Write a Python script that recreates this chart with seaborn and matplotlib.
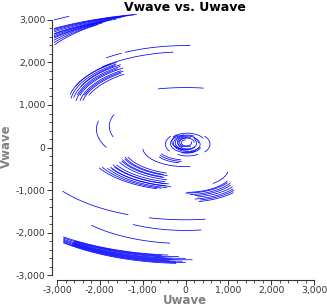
import numpy as np
import pandas as pd
import matplotlib
matplotlib.use("Agg")
import matplotlib.pyplot as plt
import matplotlib.ticker as mticker
import seaborn as sns

# ---- data: uv tracks as elliptical arcs ----
# each arc: u = cu + a*cos(t), v = cv + k*a*sin(t), t from t0 to t1 (degrees)
K = 0.45

# top-left cluster
a_A  = [3600, 3800, 4000, 4300, 4450, 4600, 4900, 5000, 5200, 5500, 5800, 6000, 6000]
cv_A = [1560, 1460, 1370, 1220, 1150, 1090, 960, 890, 830, 700, 566, 482, 680]
t0_A = [124.7, 121, 122, 115.5, 116, 112, 108, 109, 106, 104, 102, 101, 117]
t1_A = [148, 144, 141, 136, 134, 132, 129, 128, 126, 124, 122, 121, 121]

# upper hook cluster
a_B  = [2750, 2700, 2650, 2600, 2580, 2550, 2500, 2480, 2450, 2400, 2720, 2620]
cv_B = [1000, 990, 970, 960, 940, 930, 910, 890, 880, 860, 1030, 1010]
t0_B = [126, 127, 125, 126, 128, 125, 127, 126, 128, 127, 130, 129]
t1_B = [168, 172, 170, 166, 172, 165, 170, 162, 168, 160, 160, 158]

# long upper arcs and short flat arc
a_L  = [3000, 3000, 2800, 3000]
cv_L = [1047, 1047, 990, 60]
t0_L = [88, 120, 96, 82]
t1_L = [118, 128, 134, 102.3]

# left isolated arcs
a_F  = [2080, 1780]
cv_F = [430, 500]
t0_F = [168, 160]
t1_F = [207, 198]

# lower-left middle cluster
a_C  = [1450, 1500, 1550, 1600, 1650, 1700, 1850, 1900, 1950, 2000, 2050, 2100, 2200, 2300,
        1000, 650, 700, 750]
cv_C = [20, 0, 10, -10, 0, -20, 0, -20, 0, -30, 0, -20, 0, 20,
        0, 0, -15, -30]
t0_C = [202, 200, 204, 203, 206, 205, 210, 207, 212, 209, 213, 210, 208, 209,
        185, 210, 212, 215]
t1_C = [252, 250, 254, 250, 252, 255, 255, 258, 256, 260, 257, 258, 255, 253,
        276, 260, 262, 258]

# central rings
a_S  = [520, 520, 470, 430, 380, 320, 270, 220, 170, 120, 300, 250, 200, 350, 280]
cu_S = [50, 50, 50, 40, 30, 40, 30, 40, 30, 20, -20, 0, 10, 20, 60]
cv_S = [80, 80, 60, 100, 90, 100, 110, 100, 120, 110, 140, 90, 130, 60, 70]
k_S  = [0.55, 0.55, 0.55, 0.55, 0.55, 0.6, 0.6, 0.6, 0.6, 0.6, 0.6, 0.6, 0.6, 0.55, 0.6]
t0_S = [140, 320, 240, 30, 100, 60, 0, 90, 0, 100, 120, 200, 60, 250, 280]
t1_S = [215, 400, 300, 140, 300, 330, 280, 400, 300, 380, 260, 330, 250, 340, 420]

# right cluster
a_E  = [1000, 1100, 1150, 1200, 1250, 1350, 1400, 1450, 1500]
cv_E = [-500, -560, -555, -570, -580, -570, -590, -600, -610]
t0_E = [310, 272, 270, 275, 280, 282, 279, 284, 282]
t1_E = [350, 332, 328, 330, 327, 324, 322, 321, 318]

# long lower arcs
a_G  = [3500, 3500, 3000, 2600]
cv_G = [-125, -125, -910, -780]
t0_G = [215, 256, 223, 242]
t1_G = [247.5, 277.5, 263, 278]

# bottom cluster
a_D  = [4700, 4660, 4620, 4590, 4560, 4520, 4480, 4450, 4410, 4380, 4340, 4300]
cv_D = [-422, -455, -490, -520, -555, -590, -625, -655, -690, -720, -755, -792]
t0_D = [232.7, 236.5, 231.9, 235.5, 231.3, 234.5, 230.5, 234, 229.8, 233, 229.0, 228.5]
t1_D = [265, 263, 268, 264, 270, 266, 272, 265, 269, 267, 270, 267]

rows = []
arc_id = 0
def add(a_list, cv_list, t0_list, t1_list, cu_list=None, k_list=None):
    global arc_id
    for i in range(len(a_list)):
        cu = cu_list[i] if cu_list else 0
        k = k_list[i] if k_list else K
        t = np.radians(np.linspace(t0_list[i], t1_list[i], 120))
        u = cu + a_list[i] * np.cos(t)
        v = cv_list[i] + k * a_list[i] * np.sin(t)
        for uu, vv in zip(u, v):
            rows.append((uu, vv, arc_id))
        arc_id += 1

add(a_A, cv_A, t0_A, t1_A)
add(a_B, cv_B, t0_B, t1_B)
add(a_L, cv_L, t0_L, t1_L)
add(a_F, cv_F, t0_F, t1_F)
add(a_C, cv_C, t0_C, t1_C)
add(a_S, cv_S, t0_S, t1_S, cu_S, k_S)
add(a_E, cv_E, t0_E, t1_E)
add(a_G, cv_G, t0_G, t1_G)
add(a_D, cv_D, t0_D, t1_D)
df = pd.DataFrame(rows, columns=["Uwave", "Vwave", "arc"])

# ---- plot ----
sns.set_theme(style="ticks")
plt.rcParams["font.family"] = ["DejaVu Sans"]
fig = plt.figure(figsize=(3.27, 3.06), dpi=100)
ax = fig.add_axes([0.164, 0.0928, 0.803, 0.860])
sns.lineplot(data=df, x="Uwave", y="Vwave", units="arc", estimator=None,
             sort=False, color="#0000ff", lw=0.55, ax=ax, legend=False)
ax.set_xlim(-3080, 3050)
ax.set_ylim(-3060, 3130)

ax.xaxis.set_major_locator(mticker.MultipleLocator(1000))
ax.yaxis.set_major_locator(mticker.MultipleLocator(1000))
ax.xaxis.set_minor_locator(mticker.MultipleLocator(200))
ax.yaxis.set_minor_locator(mticker.MultipleLocator(200))
fmt = mticker.FuncFormatter(lambda x, p: f"{int(round(x)):,}")
ax.xaxis.set_major_formatter(fmt)
ax.yaxis.set_major_formatter(fmt)

for s in ["top", "right"]:
    ax.spines[s].set_visible(False)
ax.spines["left"].set_position(("outward", 1.5))
ax.spines["bottom"].set_position(("outward", 1.5))
ax.spines["left"].set_bounds(-3000, 3000)
ax.spines["bottom"].set_bounds(-3000, 3000)
for s in ["left", "bottom"]:
    ax.spines[s].set_color("#333333")
    ax.spines[s].set_linewidth(0.8)
ax.tick_params(which="major", length=3.5, width=0.7, color="#333333",
               labelsize=6.7, labelcolor="#333333", pad=1)
ax.tick_params(which="minor", length=2.2, width=0.6, color="#333333")

ax.set_xlabel("Uwave", fontsize=8.5, fontweight="bold", color="#808080", labelpad=-1)
ax.set_ylabel("Vwave", fontsize=8.5, fontweight="bold", color="#808080", labelpad=2)
ax.set_title("Vwave vs. Uwave", fontsize=9, fontweight="bold", color="black", pad=2.5)

fig.savefig("out.png", dpi=100)
